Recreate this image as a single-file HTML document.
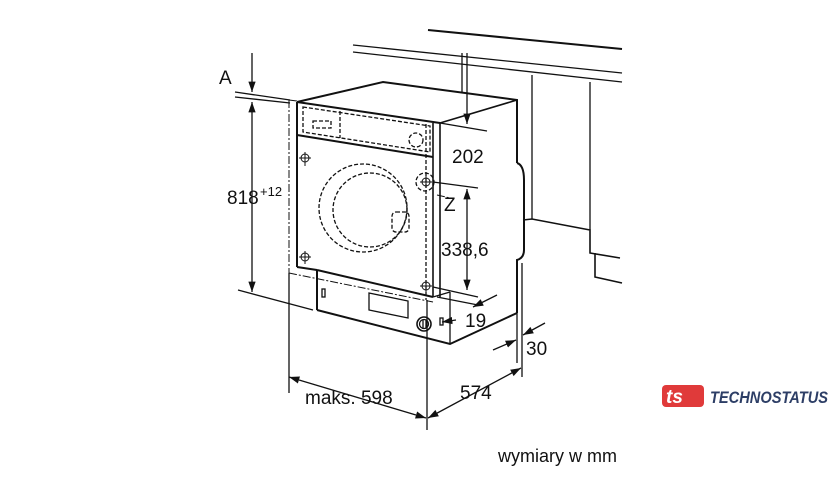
<!DOCTYPE html>
<html><head><meta charset="utf-8"><style>
html,body{margin:0;padding:0;background:#fff;width:840px;height:490px;overflow:hidden}
svg{display:block}
text{font-family:"Liberation Sans",sans-serif;fill:#111}
</style></head><body>
<svg width="840" height="490" viewBox="0 0 840 490" xmlns="http://www.w3.org/2000/svg">
<defs>
<marker id="ar" viewBox="0 0 10 10" refX="10" refY="5" markerWidth="8" markerHeight="8" orient="auto-start-reverse"><path d="M0,1.5 L10,5 L0,8.5 z" fill="#111"/></marker>
</defs>
<g stroke="#111" fill="none" stroke-width="1.3">
<line x1="428" y1="30" x2="622" y2="49" stroke-width="2"/>
<line x1="353" y1="45" x2="622" y2="73"/>
<line x1="353" y1="52" x2="622" y2="82"/>
<line x1="462" y1="53" x2="462" y2="92"/>
<line x1="532" y1="75" x2="532" y2="219"/>
<line x1="590" y1="82" x2="590" y2="230"/>
<polyline points="523,220 532,219 590,230 590,253 620,258" stroke-width="1.6"/>
<polyline points="595,253 595,277 622,283" stroke-width="1.6"/>
<polyline points="297,102 383,82 517,100 517,163" stroke-width="2"/>
<path d="M517,163 Q524,165 524,180 L524,250 Q524,258 517,260 L517,313" stroke-width="2"/>
<line x1="517" y1="100" x2="440" y2="123" stroke-width="1.6"/>
<line x1="297" y1="102" x2="440" y2="123" stroke-width="2"/>
<line x1="440" y1="123" x2="440" y2="297" stroke-width="1.6"/>
<line x1="297" y1="102" x2="297" y2="267" stroke-width="2"/>
<line x1="297" y1="267" x2="317" y2="270" stroke-width="2"/>
<line x1="317" y1="270" x2="433" y2="297" stroke-width="2"/>
<line x1="433" y1="123" x2="433" y2="297" stroke-width="1.6"/>
<line x1="433" y1="297" x2="450" y2="292"/>
<line x1="450" y1="292" x2="450" y2="344"/>
<line x1="317" y1="270" x2="317" y2="310" stroke-width="2"/>
<polyline points="317,310 450,344 517,313" stroke-width="2"/>
<line x1="297" y1="135" x2="433" y2="157" stroke-width="2"/>
<g stroke-dasharray="4,2">
<polygon points="303,107 430,126 430,152 303,132"/>
<line x1="340" y1="111" x2="340" y2="138"/>
<rect x="313" y="121" width="18" height="7"/>
<circle cx="416" cy="140" r="7"/>
<circle cx="363" cy="208" r="44"/>
<circle cx="370" cy="210" r="37"/>
<rect x="392" y="212" width="17" height="20" rx="4"/>
<circle cx="425" cy="182" r="9"/>
<line x1="426" y1="124" x2="426" y2="300"/>
</g>
<g stroke-width="1">
<circle cx="305" cy="158" r="4"/><line x1="299" y1="158" x2="311" y2="158"/><line x1="305" y1="152" x2="305" y2="166"/>
<circle cx="305" cy="257" r="4"/><line x1="299" y1="257" x2="311" y2="257"/><line x1="305" y1="251" x2="305" y2="264"/>
<circle cx="426" cy="182" r="4"/><line x1="420" y1="182" x2="432" y2="182"/><line x1="426" y1="176" x2="426" y2="188"/>
<circle cx="426" cy="286" r="4"/><line x1="420" y1="286" x2="432" y2="286"/><line x1="426" y1="280" x2="426" y2="292"/>
</g>
<rect x="322" y="289" width="3" height="8"/>
<polygon points="369,293 408,301 408,318 369,310"/>
<circle cx="424" cy="324" r="7" stroke-width="1.6"/>
<circle cx="424" cy="324" r="4.5"/>
<line x1="423" y1="320" x2="423" y2="328"/><line x1="426" y1="320" x2="426" y2="328"/>
<rect x="440" y="318" width="3" height="7"/>
<g stroke-dasharray="8,2,2,2" stroke-width="1">
<line x1="289" y1="100" x2="289" y2="273"/>
<line x1="289" y1="273" x2="433" y2="302"/>
<line x1="289" y1="100" x2="297" y2="101"/>
<line x1="437" y1="195" x2="450" y2="198"/>
</g>
<line x1="252" y1="53" x2="252" y2="92" marker-end="url(#ar)"/>
<line x1="252" y1="102" x2="252" y2="292" marker-start="url(#ar)" marker-end="url(#ar)"/>
<line x1="235" y1="92" x2="290" y2="100"/>
<line x1="235" y1="97" x2="290" y2="103"/>
<line x1="238" y1="290" x2="313" y2="310"/>
<line x1="467" y1="53" x2="467" y2="124" marker-end="url(#ar)"/>
<line x1="440" y1="123" x2="487" y2="131"/>
<line x1="467" y1="189" x2="467" y2="290" marker-start="url(#ar)" marker-end="url(#ar)"/>
<line x1="433" y1="182" x2="478" y2="188"/>
<line x1="433" y1="287" x2="478" y2="297"/>
<line x1="437" y1="297" x2="478" y2="305"/>
<line x1="497" y1="295" x2="473" y2="307" marker-end="url(#ar)"/>
<line x1="456" y1="320" x2="442" y2="322" marker-end="url(#ar)"/>
<line x1="517" y1="313" x2="517" y2="363"/>
<line x1="522" y1="263" x2="522" y2="377"/>
<line x1="493" y1="350" x2="516" y2="340" marker-end="url(#ar)"/>
<line x1="545" y1="323" x2="523" y2="335" marker-end="url(#ar)"/>
<line x1="289" y1="273" x2="289" y2="393"/>
<line x1="427" y1="300" x2="427" y2="430"/>
<line x1="289" y1="377" x2="426" y2="418" marker-start="url(#ar)" marker-end="url(#ar)"/>
<line x1="428" y1="418" x2="521" y2="368" marker-start="url(#ar)" marker-end="url(#ar)"/>
</g>
<g font-size="19">
<text x="219" y="84">A</text>
<text x="227" y="204">818</text><text x="260" y="196" font-size="13">+12</text>
<text x="452" y="163">202</text>
<text x="444" y="211">Z</text>
<text x="441" y="256">338,6</text>
<text x="465" y="327">19</text>
<text x="526" y="355">30</text>
<text x="460" y="399">574</text>
<text x="305" y="404">maks. 598</text>
<text x="498" y="462" font-size="18">wymiary w mm</text>
</g>
<rect x="662" y="385" width="42" height="22" rx="4" fill="#e03a3a"/>
<text x="666" y="403" font-size="19" font-weight="bold" font-style="italic" style="fill:#fff">ts</text>
<text x="710" y="403" font-size="17" font-weight="bold" font-style="italic" style="fill:#2d3e66" textLength="118" lengthAdjust="spacingAndGlyphs">TECHNOSTATUS</text>
</svg>
</body></html>
